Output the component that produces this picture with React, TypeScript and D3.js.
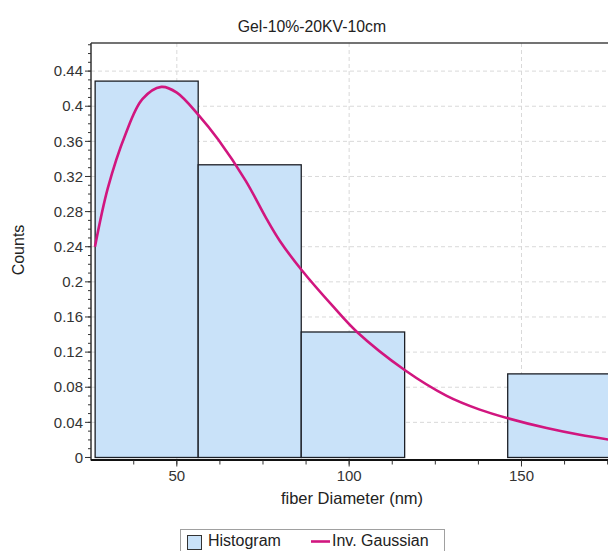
import React from "react";
import * as d3 from "d3";

// Histogram of fiber diameters (relative counts per 30 nm bin)
const binEdges = [26.3, 56.2, 86.1, 116.1, 146.0, 175.9];
const binCounts = [0.4286, 0.3333, 0.1429, 0, 0.0952];

// Fitted inverse Gaussian curve, sampled along the diameter axis
const gaussX = [26.25, 30, 35, 40, 45.5, 50, 56.5, 62, 70, 76, 80, 86.2, 95.4, 102.2, 116.1, 128.3, 137.9, 146.1, 157.3, 166.9, 176];
const gaussY = [0.24, 0.307, 0.367, 0.408, 0.422, 0.4155, 0.389, 0.362, 0.315, 0.272, 0.246, 0.2135, 0.1717, 0.1432, 0.0996, 0.0702, 0.0545, 0.0446, 0.0335, 0.0258, 0.02];

const yMajorTicks = [0, 0.04, 0.08, 0.12, 0.16, 0.2, 0.24, 0.28, 0.32, 0.36, 0.4, 0.44];
const yTickLabels = ["0", "0.04", "0.08", "0.12", "0.16", "0.2", "0.24", "0.28", "0.32", "0.36", "0.4", "0.44"];
const xMajorTicks = [50, 100, 150];
const xTickLabels = ["50", "100", "150"];

const title = "Gel-10%-20KV-10cm";
const xTitle = "fiber Diameter (nm)";
const yTitle = "Counts";
const legendLabels = ["Histogram", "Inv. Gaussian"];

const W = 608;
const H = 551;
const FONT = "'Liberation Sans', Arial, sans-serif";

export default function App() {
  const left = 91;
  const top = 43;
  const right = 620;
  const bottom = 459.5;

  const x = d3.scaleLinear().domain([25.1, 175.1]).range([left, 608]);
  const y = d3.scaleLinear().domain([-0.0023, 0.472]).range([bottom, top]);

  const yMinor = d3.range(0, 48).map((i) => i * 0.01).filter((v) => y(v) >= top);
  const xMinor = d3.range(0, 20).map((i) => 25 + i * 12.5).filter((v) => x(v) > left && x(v) < W);

  const line = d3
    .line<number>()
    .x((_, i) => x(gaussX[i]))
    .y((d) => y(d))
    .curve(d3.curveCatmullRom.alpha(0.5));

  const path = line(gaussY) || "";

  return (
    <svg
      width={W}
      height={H}
      style={{ position: "absolute", left: 0, top: 0, background: "#fff" }}
      fontFamily={FONT}
    >
      <defs>
        <clipPath id="plot">
          <rect x={left} y={top} width={right - left} height={bottom - top} />
        </clipPath>
      </defs>

      {/* title */}
      <text x={312} y={32} textAnchor="middle" fontSize={15.8} fill="#222">
        {title}
      </text>

      {/* grid */}
      <g stroke="#d9d9d9" strokeWidth={1} strokeDasharray="4,3">
        {yMajorTicks.slice(1).map((v) => (
          <line key={"gy" + v} x1={left} x2={right} y1={y(v)} y2={y(v)} />
        ))}
        {xMajorTicks.map((v) => (
          <line key={"gx" + v} x1={x(v)} x2={x(v)} y1={top} y2={bottom} />
        ))}
      </g>

      {/* histogram bars and fitted curve */}
      <g clipPath="url(#plot)">
        {binCounts.map((c, i) => (
          <rect
            key={"b" + i}
            x={x(binEdges[i])}
            y={y(c)}
            width={x(binEdges[i + 1]) - x(binEdges[i])}
            height={y(0) - y(c)}
            fill="#c9e2f9"
            stroke="#1c1f26"
            strokeWidth={1.3}
          />
        ))}
        <path d={path} fill="none" stroke="#d1167f" strokeWidth={2.6} strokeLinejoin="round" />
      </g>

      {/* frame */}
      <line x1={left} x2={right} y1={top} y2={top} stroke="#444" strokeWidth={1.3} />
      <line x1={left} x2={left} y1={top} y2={bottom + 1} stroke="#333" strokeWidth={1.5} />
      <line x1={left} x2={right} y1={bottom + 0.5} y2={bottom + 0.5} stroke="#111" strokeWidth={2} />

      {/* y axis ticks */}
      <g stroke="#333" strokeWidth={1}>
        {yMinor.map((v) => (
          <line key={"ym" + v} x1={left - 3} x2={left} y1={y(v)} y2={y(v)} />
        ))}
        {yMajorTicks.map((v) => (
          <line key={"yM" + v} x1={left - 6} x2={left} y1={y(v)} y2={y(v)} />
        ))}
      </g>
      <g fontSize={15} fill="#333" textAnchor="end">
        {yMajorTicks.map((v, i) => (
          <text key={"yl" + v} x={left - 8} y={y(v)} dy="0.35em">
            {yTickLabels[i]}
          </text>
        ))}
      </g>

      {/* x axis ticks */}
      <g stroke="#333" strokeWidth={1}>
        {xMinor.map((v) => (
          <line key={"xm" + v} x1={x(v)} x2={x(v)} y1={bottom + 1} y2={bottom + 5} />
        ))}
        {xMajorTicks.map((v) => (
          <line key={"xM" + v} x1={x(v)} x2={x(v)} y1={bottom + 1} y2={bottom + 7} />
        ))}
      </g>
      <g fontSize={15} fill="#333" textAnchor="middle">
        {xMajorTicks.map((v, i) => (
          <text key={"xl" + v} x={x(v)} y={481}>
            {xTickLabels[i]}
          </text>
        ))}
      </g>

      {/* axis titles */}
      <text x={352} y={504} textAnchor="middle" fontSize={16.5} fill="#222">
        {xTitle}
      </text>
      <text
        transform={`translate(24,250) rotate(-90)`}
        textAnchor="middle"
        fontSize={16}
        fill="#222"
      >
        {yTitle}
      </text>

      {/* legend */}
      <rect x={180.5} y={529.5} width={264} height={30} fill="#fff" stroke="#a0a0a0" strokeWidth={1} />
      <rect x={187.5} y={535.5} width={14} height={14} fill="#c9e2f9" stroke="#333" strokeWidth={1} />
      <text x={208} y={546} fontSize={16} fill="#222">
        {legendLabels[0]}
      </text>
      <line x1={311} x2={330} y1={541.5} y2={541.5} stroke="#d1167f" strokeWidth={2.6} />
      <text x={332} y={546} fontSize={16} fill="#222">
        {legendLabels[1]}
      </text>
    </svg>
  );
}
